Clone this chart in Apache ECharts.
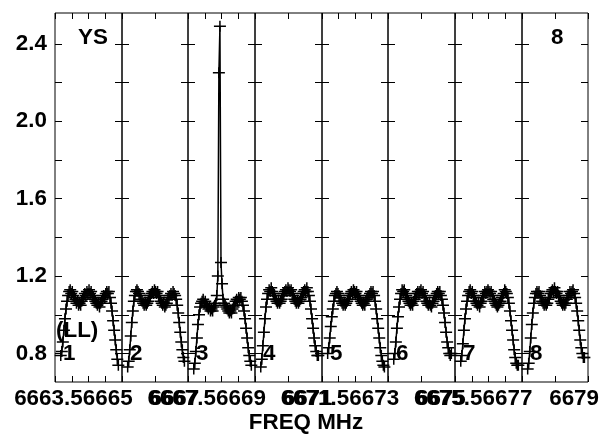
<!DOCTYPE html>
<html>
<head>
<meta charset="utf-8">
<script src="https://cdn.jsdelivr.net/npm/echarts@6/dist/echarts.min.js"></script>
<style>html,body{margin:0;padding:0;background:#fff}#chart{width:602px;height:435px}</style>
</head>
<body>
<div id="chart"></div>
<script>
// 8 IFs, 2 MHz each, 64 channels per IF (edge channels dropped)
var panelStart = [6663, 6665, 6667, 6669, 6671, 6673, 6675, 6677];
var chanWidth = 0.03125;
var firstChan = 5;

var if1 = [0.79, 0.81, 0.86, 0.92, 0.98, 1.03, 1.07, 1.10,
           1.12, 1.13, 1.11, 1.12, 1.10, 1.09, 1.08, 1.06,
           1.07, 1.05, 1.06, 1.05, 1.07, 1.08, 1.09, 1.11,
           1.10, 1.12, 1.11, 1.13, 1.11, 1.12, 1.10, 1.09,
           1.08, 1.07, 1.06, 1.05, 1.06, 1.04, 1.06, 1.07,
           1.08, 1.10, 1.09, 1.11, 1.12, 1.11, 1.12, 1.09,
           1.06, 1.02, 0.97, 0.92, 0.87, 0.82, 0.77, 0.74];
var if2 = [0.73, 0.76, 0.82, 0.89, 0.96, 1.02, 1.07, 1.10,
           1.12, 1.13, 1.12, 1.11, 1.10, 1.08, 1.07, 1.06,
           1.05, 1.06, 1.05, 1.06, 1.07, 1.09, 1.10, 1.11,
           1.12, 1.11, 1.13, 1.12, 1.11, 1.12, 1.10, 1.09,
           1.07, 1.06, 1.05, 1.06, 1.04, 1.05, 1.06, 1.08,
           1.09, 1.10, 1.11, 1.10, 1.12, 1.11, 1.10, 1.08,
           1.05, 1.01, 0.96, 0.91, 0.86, 0.82, 0.78, 0.76];
var if3 = [0.72, 0.75, 0.81, 0.88, 0.95, 1.00, 1.04, 1.06,
           1.07, 1.08, 1.06, 1.07, 1.05, 1.04, 1.03, 1.04,
           1.02, 1.03, 1.02, 1.04, 1.05, 1.06, 1.10, 1.20,
           2.25, 2.49, 1.27, 1.16, 1.08, 1.06, 1.05, 1.04,
           1.03, 1.02, 1.01, 1.02, 1.01, 1.03, 1.04, 1.05,
           1.07, 1.08, 1.07, 1.09, 1.08, 1.09, 1.07, 1.05,
           1.02, 0.98, 0.93, 0.88, 0.83, 0.79, 0.76, 0.74];
var if4 = [0.73, 0.77, 0.84, 0.91, 0.98, 1.04, 1.08, 1.11,
           1.13, 1.12, 1.14, 1.12, 1.11, 1.10, 1.08, 1.07,
           1.06, 1.07, 1.06, 1.07, 1.08, 1.10, 1.11, 1.12,
           1.13, 1.12, 1.14, 1.13, 1.12, 1.13, 1.11, 1.10,
           1.08, 1.07, 1.06, 1.07, 1.06, 1.07, 1.08, 1.09,
           1.11, 1.12, 1.13, 1.12, 1.14, 1.12, 1.10, 1.07,
           1.03, 0.98, 0.93, 0.88, 0.84, 0.81, 0.79, 0.79];
var if5 = [0.80, 0.83, 0.88, 0.94, 0.99, 1.03, 1.07, 1.10,
           1.11, 1.12, 1.11, 1.10, 1.09, 1.07, 1.06, 1.05,
           1.06, 1.05, 1.06, 1.07, 1.08, 1.10, 1.11, 1.12,
           1.11, 1.13, 1.12, 1.11, 1.12, 1.10, 1.09, 1.08,
           1.07, 1.06, 1.05, 1.06, 1.05, 1.07, 1.08, 1.09,
           1.10, 1.11, 1.12, 1.11, 1.12, 1.10, 1.07, 1.03,
           0.98, 0.93, 0.88, 0.83, 0.79, 0.76, 0.74, 0.73];
var if6 = [0.77, 0.80, 0.86, 0.93, 0.99, 1.04, 1.08, 1.11,
           1.13, 1.12, 1.13, 1.11, 1.10, 1.09, 1.07, 1.06,
           1.05, 1.06, 1.05, 1.07, 1.08, 1.09, 1.11, 1.12,
           1.11, 1.12, 1.13, 1.11, 1.12, 1.10, 1.09, 1.07,
           1.06, 1.05, 1.06, 1.05, 1.04, 1.06, 1.07, 1.09,
           1.10, 1.11, 1.12, 1.11, 1.12, 1.10, 1.08, 1.05,
           1.01, 0.96, 0.91, 0.86, 0.83, 0.80, 0.79, 0.80];
var if7 = [0.76, 0.79, 0.85, 0.92, 0.98, 1.03, 1.07, 1.10,
           1.12, 1.13, 1.11, 1.12, 1.10, 1.09, 1.07, 1.06,
           1.05, 1.06, 1.04, 1.06, 1.07, 1.09, 1.10, 1.12,
           1.11, 1.12, 1.13, 1.12, 1.11, 1.12, 1.10, 1.08,
           1.07, 1.06, 1.05, 1.04, 1.05, 1.06, 1.07, 1.09,
           1.10, 1.11, 1.13, 1.12, 1.11, 1.09, 1.06, 1.02,
           0.97, 0.92, 0.87, 0.82, 0.78, 0.75, 0.74, 0.74];
var if8 = [0.72, 0.75, 0.81, 0.88, 0.95, 1.01, 1.06, 1.09,
           1.11, 1.12, 1.11, 1.12, 1.10, 1.09, 1.07, 1.06,
           1.05, 1.06, 1.05, 1.06, 1.08, 1.09, 1.11, 1.12,
           1.13, 1.12, 1.14, 1.12, 1.11, 1.12, 1.10, 1.09,
           1.07, 1.06, 1.05, 1.06, 1.05, 1.06, 1.08, 1.09,
           1.10, 1.12, 1.11, 1.12, 1.13, 1.11, 1.09, 1.06,
           1.02, 0.97, 0.92, 0.87, 0.83, 0.80, 0.78, 0.78];
var spectra = [if1, if2, if3, if4, if5, if6, if7, if8];
var panelNames = ['1', '2', '3', '4', '5', '6', '7', '8'];

var xLabels = [6663.5, 6665, 6667, 6667.5, 6669, 6671, 6671.5, 6673, 6675, 6675.5, 6677, 6679];
var yTicks = [0.8, 1.0, 1.2, 1.4, 1.6, 1.8, 2.0, 2.2, 2.4];
var yLabels = [0.8, 1.2, 1.6, 2.0, 2.4];
var yMin = 0.653, yMax = 2.559;

var font = '"Liberation Sans", Arial, sans-serif';
var fsize = 22.4;
var cross = 'path://M0,4.75h12v1.5h-12z M5.25,0h1.5v11h-1.5z';

var myChart = echarts.init(document.getElementById('chart'));

var plotLeft = 55, plotTop = 13, plotH = 369, plotW = 533.33;
var grids = [], xAxes = [], yAxes = [], series = [], texts = [];

function label(txt, x, y, align) {
    return { type: 'text', x: x, y: y,
        style: { text: txt, font: 'bold ' + fsize + 'px ' + font, fill: '#000',
                 textAlign: align || 'left', textVerticalAlign: 'middle' } };
}

for (var i = 0; i < 8; i++) {
    var l = Math.round(plotLeft + i * plotW / 8);
    var r = Math.round(plotLeft + (i + 1) * plotW / 8);
    grids.push({ left: l, top: plotTop, width: r - l, height: plotH,
        show: true, borderColor: '#000', borderWidth: 1 });

    var step = (i % 2 === 0) ? 0.5 : 1;
    [ 'bottom', 'top' ].forEach(function (pos) {
        xAxes.push({
            type: 'value', gridIndex: i, position: pos,
            min: panelStart[i], max: panelStart[i] + 2, interval: step,
            axisLine: { show: false },
            axisTick: { inside: true, length: 6, lineStyle: { color: '#000' } },
            axisLabel: { show: false },
            splitLine: { show: false }
        });
    });
    [ 'left', 'right' ].forEach(function (pos) {
        var labelled = (i === 0 && pos === 'left');
        yAxes.push({
            type: 'value', gridIndex: i, position: pos,
            min: yMin, max: yMax,
            axisLine: { show: false },
            axisTick: { inside: true, length: 7, customValues: yTicks, lineStyle: { color: '#000' } },
            axisLabel: labelled ? {
                customValues: yLabels, margin: 8, padding: [3, 0, 0, 0],
                fontSize: fsize, fontWeight: 'bold', fontFamily: font, color: '#000',
                formatter: function (v) { return v.toFixed(1); }
            } : { show: false },
            splitLine: { show: false }
        });
    });

    series.push({
        type: 'line',
        xAxisIndex: 2 * i, yAxisIndex: 2 * i,
        data: spectra[i].map(function (v, j) {
            return [panelStart[i] + (firstChan + j + 0.5) * chanWidth, v];
        }),
        symbol: cross, symbolSize: [12, 11], showAllSymbol: true,
        itemStyle: { color: '#000', borderWidth: 0 },
        lineStyle: { color: '#000', width: 1.5 },
        silent: true
    });

    texts.push(label(panelNames[i], l + 8, 354));
}

// frequency labels sit right-aligned just past their tick
grids.push({ left: 66, top: plotTop, width: 534.6, height: plotH, show: false });
xAxes.push({
    type: 'value', gridIndex: 8, min: 6663, max: 6679,
    axisLine: { show: false }, axisTick: { show: false }, splitLine: { show: false },
    axisLabel: {
        customValues: xLabels, align: 'right', margin: 6,
        showMinLabel: true, showMaxLabel: true, hideOverlap: false,
        fontSize: fsize, fontWeight: 'bold', fontFamily: font, color: '#000',
        formatter: function (v) { return String(v); }
    }
});
yAxes.push({ type: 'value', gridIndex: 8, show: false });

texts.push(label('YS', 78, 38));
texts.push(label('8', 551, 38));
texts.push(label('(LL)', 56, 331));
texts.push(label('FREQ MHz', 306, 423, 'center'));

var option = {
    animation: false,
    backgroundColor: '#fff',
    grid: grids,
    xAxis: xAxes,
    yAxis: yAxes,
    series: series,
    graphic: texts
};

myChart.setOption(option);
</script>
</body>
</html>
